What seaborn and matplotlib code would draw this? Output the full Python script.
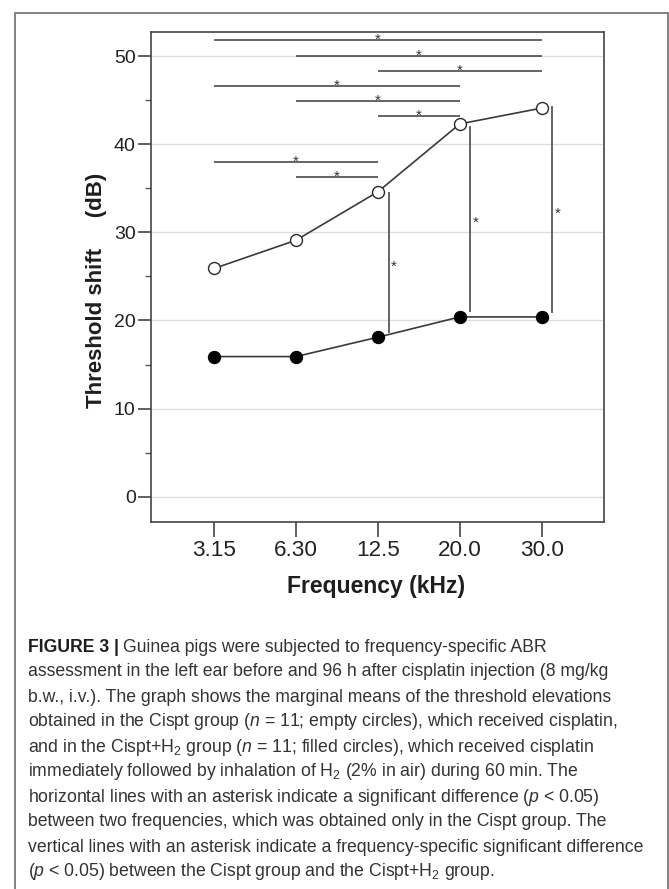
import matplotlib
matplotlib.use("Agg")
import matplotlib.pyplot as plt
from matplotlib import font_manager
from matplotlib.patches import Rectangle
from matplotlib.ticker import MultipleLocator
import pandas as pd
import seaborn as sns

# values
freq_labels = ['3.15', '6.30', '12.5', '20.0', '30.0']
cispt = [25.9, 29.1, 34.6, 42.3, 44.1]        # empty circles
cispt_h2 = [15.9, 15.9, 18.1, 20.4, 20.4]     # filled circles

# horizontal significance bars (between two frequencies, Cispt group)
hbar_from = [0, 1, 2, 0, 1, 2, 0, 1]
hbar_to = [4, 4, 4, 3, 3, 3, 2, 2]
hbar_y = [51.8, 50.0, 48.3, 46.6, 44.9, 43.2, 38.0, 36.3]

# vertical significance lines (Cispt vs Cispt+H2 at one frequency)
vbar_at = [2, 3, 4]
vbar_top = [34.6, 42.1, 44.3]
vbar_bottom = [18.6, 21.0, 20.9]

caption = [
    "Guinea pigs were subjected to frequency-specific ABR",
    "assessment in the left ear before and 96 h after cisplatin injection (8 mg/kg",
    "b.w., i.v.). The graph shows the marginal means of the threshold elevations",
    r"obtained in the Cispt group ($\mathit{n}$ = 11; empty circles), which received cisplatin,",
    r"and in the Cispt+H$_2$ group ($\mathit{n}$ = 11; filled circles), which received cisplatin",
    r"immediately followed by inhalation of H$_2$ (2% in air) during 60 min. The",
    r"horizontal lines with an asterisk indicate a significant difference ($\mathit{p}$ < 0.05)",
    "between two frequencies, which was obtained only in the Cispt group. The",
    "vertical lines with an asterisk indicate a frequency-specific significant difference",
    r"($\mathit{p}$ < 0.05) between the Cispt group and the Cispt+H$_2$ group.",
]

sns.set_theme(style='white')
names = {f.name for f in font_manager.fontManager.ttflist}
cap_font = 'Liberation Sans Narrow' if 'Liberation Sans Narrow' in names else 'Liberation Sans'
plt.rcParams['font.family'] = ['Liberation Sans', 'DejaVu Sans']
plt.rcParams['mathtext.fontset'] = 'custom'
plt.rcParams['mathtext.default'] = 'regular'
plt.rcParams['mathtext.rm'] = cap_font
plt.rcParams['mathtext.it'] = cap_font + ':italic'

W, H = 669, 889
fig = plt.figure(figsize=(W / 100, H / 100), dpi=100)
fig.patch.set_facecolor('white')

# frame around figure + caption
fig.patches.append(Rectangle((15 / W, -0.01), (668 - 15) / W, 1 - 13 / H + 0.01,
                             transform=fig.transFigure, fill=False,
                             ec='#6e6e6e', lw=1.2))

ax = fig.add_axes([151 / W, 1 - 522 / H, (604 - 151) / W, (522 - 32) / H])

df = pd.DataFrame({
    'pos': list(range(len(freq_labels))) * 2,
    'shift': cispt + cispt_h2,
    'group': ['Cispt'] * len(cispt) + ['Cispt+H2'] * len(cispt_h2),
})

# significance bars
line_kw = dict(color='#4a4a4a', lw=1.2, zorder=2, solid_capstyle='butt')
star_kw = dict(ha='center', va='baseline', fontsize=11, color='#333333',
               textcoords='offset points', xytext=(0, -6.2))
for a, b, y in zip(hbar_from, hbar_to, hbar_y):
    ax.plot([a, b], [y, y], **line_kw)
    ax.annotate('*', xy=((a + b) / 2, y + 0.55), **star_kw)
for i, top, bot in zip(vbar_at, vbar_top, vbar_bottom):
    ax.plot([i + 0.13, i + 0.13], [bot, top], **line_kw)
    ax.annotate('*', xy=(i + 0.19, (top + bot) / 2), **star_kw)

sns.lineplot(data=df[df['group'] == 'Cispt'], x='pos', y='shift', ax=ax,
             color='#3a3a3a', lw=1.2, marker='o', markersize=8.6,
             markerfacecolor='white', markeredgecolor='#2a2a2a',
             markeredgewidth=1.0, zorder=3)
sns.lineplot(data=df[df['group'] == 'Cispt+H2'], x='pos', y='shift', ax=ax,
             color='#3a3a3a', lw=1.2, marker='o', markersize=8.6,
             markerfacecolor='black', markeredgecolor='black',
             markeredgewidth=1.0, zorder=3)

ax.set_xlim(-0.77, 4.76)
ax.set_ylim(-2.87, 52.73)
ax.set_xticks(range(len(freq_labels)))
ax.set_xticklabels(freq_labels)
ax.yaxis.set_major_locator(MultipleLocator(10))
ax.yaxis.set_minor_locator(MultipleLocator(5))
ax.grid(axis='y', which='major', color='#dedede', lw=1.0)
ax.set_axisbelow(True)
for s in ax.spines.values():
    s.set_color('#444444')
    s.set_linewidth(1.2)
ax.tick_params(axis='y', which='major', left=True, length=9.5, width=1.2,
               color='#444444', labelsize=14, pad=1.5, labelcolor='#222222')
ax.tick_params(axis='y', which='minor', left=True, length=4.5, width=1.0,
               color='#555555')
ax.tick_params(axis='x', which='major', bottom=True, length=10.5, width=1.2,
               color='#444444', labelsize=16.2, pad=2.5, labelcolor='#222222')

ax.set_xlabel('Frequency (kHz)', fontsize=16.5, fontweight='bold', color='#1e1e1e')
ax.xaxis.set_label_coords((376.5 - 151) / 453, -0.108)
ax.set_ylabel('Threshold shift     (dB)', fontsize=16, fontweight='bold', color='#1e1e1e')
ax.yaxis.set_label_coords((107 - 151) / 453, (522 - 290) / 490)

# caption
renderer = fig.canvas.get_renderer()
probe = fig.text(0, 0, caption[8], fontsize=10, family=cap_font)
cap_size = 10 * 620 / probe.get_window_extent(renderer).width
probe.remove()

x0 = 28 / W
base0, step = 651.5, 25.0
head = fig.text(x0, 1 - base0 / H, 'FIGURE 3 |', fontsize=cap_size, family=cap_font,
                fontweight='bold', color='#1e1e1e', va='baseline')
hw = head.get_window_extent(renderer).width
for k, line in enumerate(caption):
    x = x0 + (hw + cap_size * 0.3) / W if k == 0 else x0
    fig.text(x, 1 - (base0 + k * step) / H, line, fontsize=cap_size, family=cap_font,
             color='#333333', va='baseline')

fig.savefig('out.png', dpi=100)
